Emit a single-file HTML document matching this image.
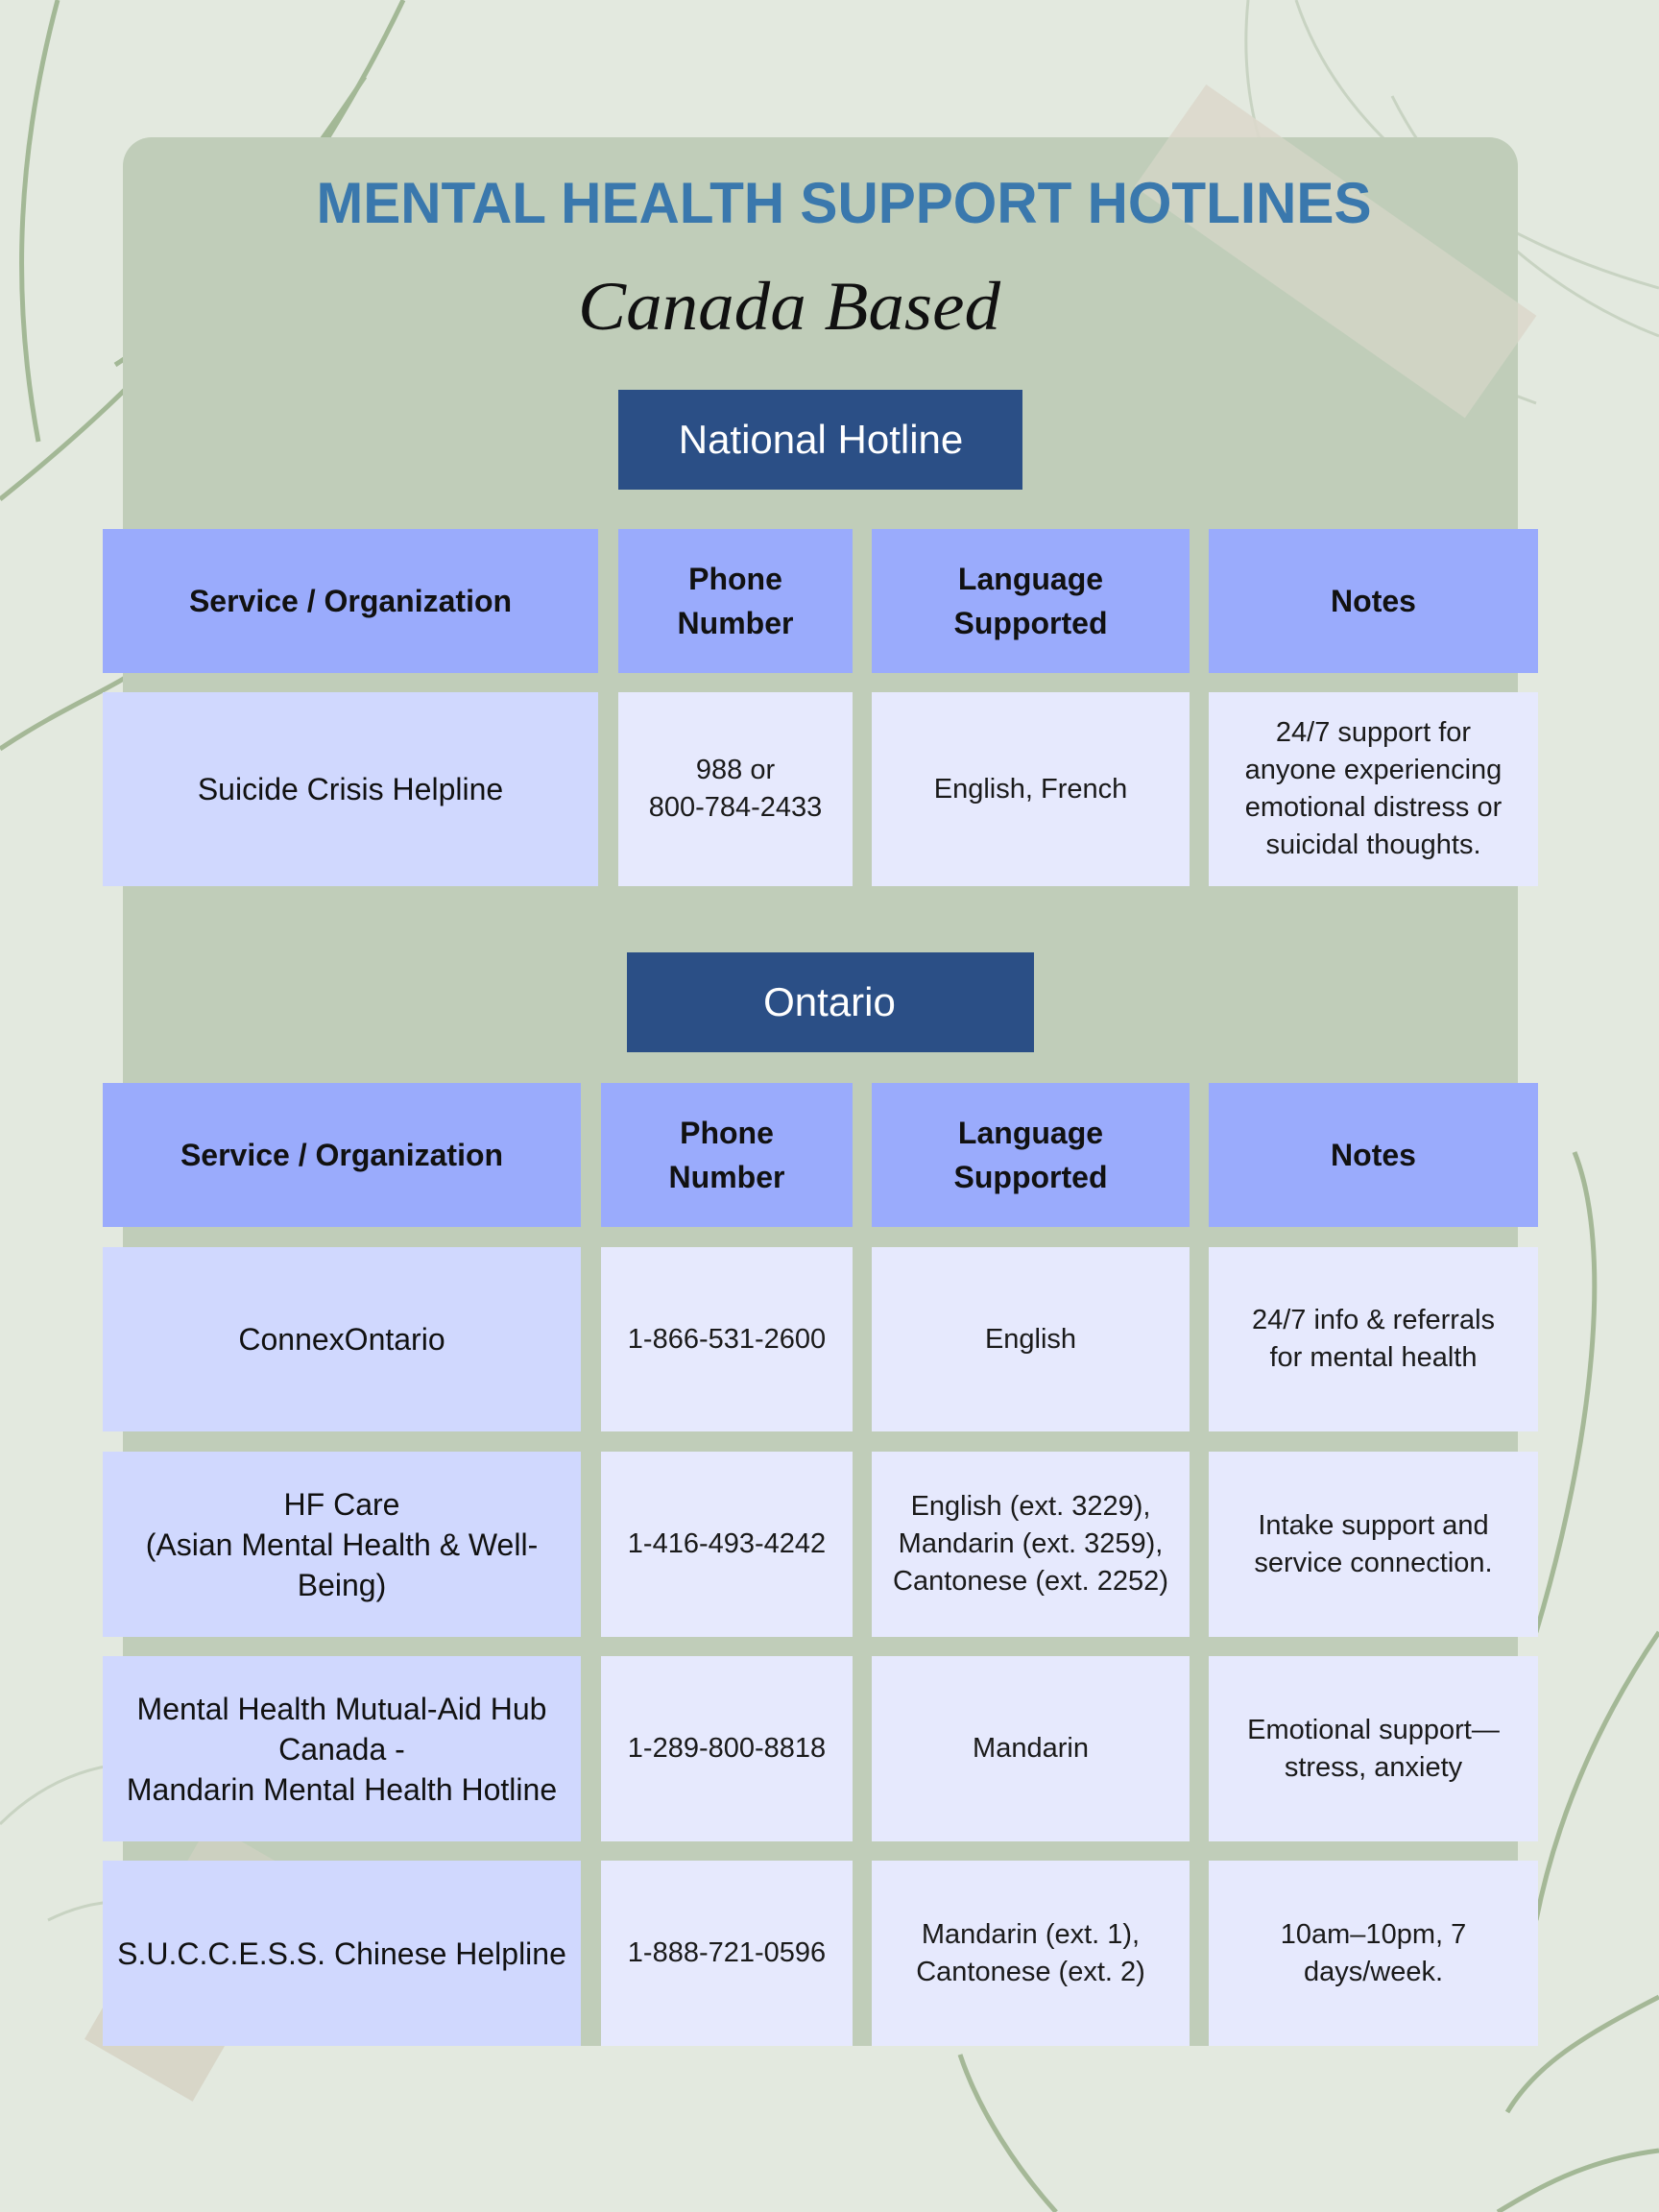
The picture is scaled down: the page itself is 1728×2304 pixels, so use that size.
<!DOCTYPE html>
<html><head><meta charset="utf-8"><style>
html,body{margin:0;padding:0}
body{width:1728px;height:2304px;position:relative;overflow:hidden;background:#e3e9df;font-family:"Liberation Sans",sans-serif}
.abs{position:absolute}
.c{position:absolute;display:flex;align-items:center;justify-content:center;text-align:center;box-sizing:border-box;padding:0 10px;color:#111}
.h{background:#9aabfc;font-weight:bold;font-size:32px;line-height:46px}
.n{background:#d0d8fe;font-size:32px;line-height:42px;font-family:"Liberation Sans",sans-serif;color:#111}
.d{background:#e6e9fd;font-size:29px;line-height:39px;font-family:"Liberation Sans",sans-serif;color:#1a1a1a}
</style></head><body>
<svg class="abs" style="left:0;top:0" width="1728" height="2304" viewBox="0 0 1728 2304">
<g fill="none" stroke="#9db38f" stroke-width="5" opacity="0.9">
<path d="M0 520 C150 400 300 250 420 0"/>
<path d="M120 380 C200 330 300 200 380 80"/>
<path d="M40 460 C10 300 20 150 60 0"/>
<path d="M200 300 C300 250 450 180 600 170"/>
<path d="M0 780 C60 740 110 720 140 700"/>
<path d="M1728 1700 C1660 1800 1620 1900 1600 2000"/>
<path d="M1640 1200 C1680 1300 1660 1500 1600 1700"/>
<path d="M1728 2080 C1650 2120 1600 2150 1570 2200"/>
<path d="M1000 2140 C1020 2200 1060 2260 1100 2304"/>
<path d="M1728 2240 C1650 2250 1600 2280 1560 2304"/>
</g>
<g fill="none" stroke="#c8d3c2" stroke-width="3">
<path d="M1300 0 C1280 200 1400 350 1600 420"/>
<path d="M1350 0 C1400 150 1550 250 1728 300"/>
<path d="M1450 100 C1500 200 1600 300 1728 350"/>
<path d="M0 1900 C100 1800 250 1820 320 1950"/>
<path d="M50 2000 C150 1950 250 2000 300 2100"/>
</g>
<rect x="128" y="143" width="1453" height="1988" rx="30" fill="#c0cdb9"/>
<g transform="rotate(35 1380 260)"><rect x="1180" y="190" width="420" height="130" fill="#dcd8cc" opacity="0.9"/></g>
<g transform="rotate(-60 200 2050)"><rect x="80" y="1990" width="260" height="130" fill="#d6d2c4" opacity="0.85"/></g>
<rect x="128" y="143" width="1453" height="1988" rx="30" fill="#c0cdb9" opacity="0.35"/>
<text x="879" y="232" text-anchor="middle" font-family="Liberation Sans" font-weight="bold" font-size="60" fill="#3a78ad" textLength="1099" lengthAdjust="spacingAndGlyphs">MENTAL HEALTH SUPPORT HOTLINES</text>
<text x="822" y="343" text-anchor="middle" font-family="Liberation Serif" font-style="italic" font-size="72" fill="#111" textLength="440" lengthAdjust="spacingAndGlyphs">Canada Based</text>
<rect x="644" y="406" width="421" height="104" fill="#2b4f86"/>
<text x="855" y="472" text-anchor="middle" font-family="Liberation Sans" font-size="42" fill="#fff">National Hotline</text>
<rect x="653" y="992" width="424" height="104" fill="#2b4f86"/>
<text x="864" y="1058" text-anchor="middle" font-family="Liberation Sans" font-size="42" fill="#fff">Ontario</text>
</svg>

<div class="c h" style="left:107px;top:551px;width:516px;height:150px">Service / Organization</div>
<div class="c h" style="left:644px;top:551px;width:244px;height:150px">Phone<br>Number</div>
<div class="c h" style="left:908px;top:551px;width:331px;height:150px">Language<br>Supported</div>
<div class="c h" style="left:1259px;top:551px;width:343px;height:150px">Notes</div>
<div class="c n" style="left:107px;top:721px;width:516px;height:202px">Suicide Crisis Helpline</div>
<div class="c d" style="left:644px;top:721px;width:244px;height:202px">988 or<br>800-784-2433</div>
<div class="c d" style="left:908px;top:721px;width:331px;height:202px">English, French</div>
<div class="c d" style="left:1259px;top:721px;width:343px;height:202px">24/7 support for<br>anyone experiencing<br>emotional distress or<br>suicidal thoughts.</div>

<div class="c h" style="left:107px;top:1128px;width:498px;height:150px">Service / Organization</div>
<div class="c h" style="left:626px;top:1128px;width:262px;height:150px">Phone<br>Number</div>
<div class="c h" style="left:908px;top:1128px;width:331px;height:150px">Language<br>Supported</div>
<div class="c h" style="left:1259px;top:1128px;width:343px;height:150px">Notes</div>

<div class="c n" style="left:107px;top:1299px;width:498px;height:192px">ConnexOntario</div>
<div class="c d" style="left:626px;top:1299px;width:262px;height:192px">1-866-531-2600</div>
<div class="c d" style="left:908px;top:1299px;width:331px;height:192px">English</div>
<div class="c d" style="left:1259px;top:1299px;width:343px;height:192px">24/7 info &amp; referrals<br>for mental health</div>

<div class="c n" style="left:107px;top:1512px;width:498px;height:193px">HF Care<br>(Asian Mental Health &amp; Well-<br>Being)</div>
<div class="c d" style="left:626px;top:1512px;width:262px;height:193px">1-416-493-4242</div>
<div class="c d" style="left:908px;top:1512px;width:331px;height:193px">English (ext. 3229),<br>Mandarin (ext. 3259),<br>Cantonese (ext. 2252)</div>
<div class="c d" style="left:1259px;top:1512px;width:343px;height:193px">Intake support and<br>service connection.</div>

<div class="c n" style="left:107px;top:1725px;width:498px;height:193px;padding:0 4px">Mental Health Mutual-Aid Hub<br>Canada -<br>Mandarin Mental Health Hotline</div>
<div class="c d" style="left:626px;top:1725px;width:262px;height:193px">1-289-800-8818</div>
<div class="c d" style="left:908px;top:1725px;width:331px;height:193px">Mandarin</div>
<div class="c d" style="left:1259px;top:1725px;width:343px;height:193px">Emotional support—<br>stress, anxiety</div>

<div class="c n" style="left:107px;top:1938px;width:498px;height:193px">S.U.C.C.E.S.S. Chinese Helpline</div>
<div class="c d" style="left:626px;top:1938px;width:262px;height:193px">1-888-721-0596</div>
<div class="c d" style="left:908px;top:1938px;width:331px;height:193px">Mandarin (ext. 1),<br>Cantonese (ext. 2)</div>
<div class="c d" style="left:1259px;top:1938px;width:343px;height:193px">10am–10pm, 7<br>days/week.</div>
</body></html>
